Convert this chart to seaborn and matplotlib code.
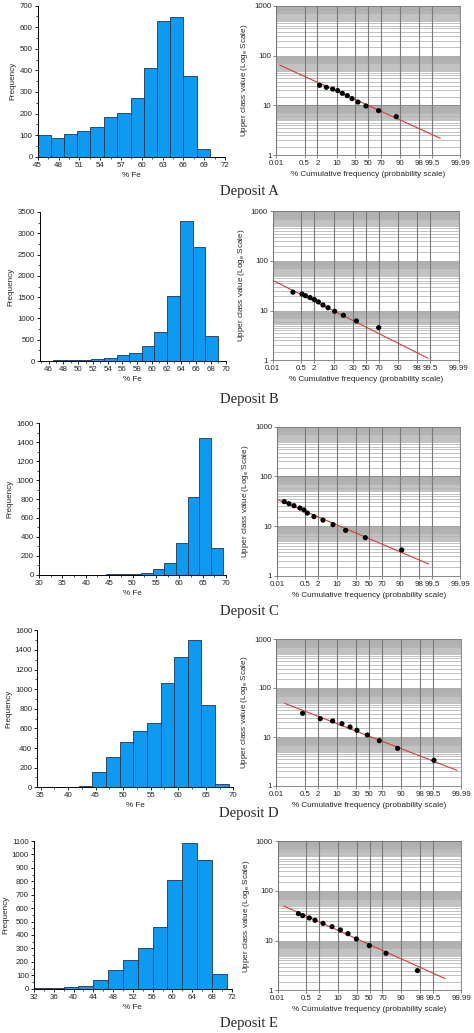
import numpy as np
import pandas as pd
import matplotlib
matplotlib.use("Agg")
import matplotlib.pyplot as plt
import matplotlib.ticker as mticker
import seaborn as sns
from statistics import NormalDist

# ---------------- data ----------------
deposits = ["A", "B", "C", "D", "E"]

histA_edges = [45.0, 46.9, 48.8, 50.7, 52.6, 54.6, 56.5, 58.4, 60.3, 62.2, 64.1, 66.0, 67.9, 69.8]
histA_counts = [99, 85, 104, 119, 138, 184, 201, 270, 410, 629, 649, 374, 37]
histB_edges = [44.9, 46.6, 48.3, 50.1, 51.8, 53.5, 55.2, 56.9, 58.6, 60.3, 62.1, 63.8, 65.5, 67.2, 68.9]
histB_counts = [8, 20, 12, 30, 42, 63, 133, 196, 360, 690, 1527, 3280, 2686, 580]
histC_edges = [41.8, 44.3, 46.8, 49.3, 51.8, 54.3, 56.8, 59.3, 61.8, 64.3, 66.8, 69.3]
histC_counts = [2, 4, 5, 8, 21, 60, 127, 331, 824, 1444, 282]
histD_edges = [34.5, 37.0, 39.4, 41.9, 44.4, 46.9, 49.4, 51.8, 54.3, 56.8, 59.3, 61.8, 64.2, 66.7, 69.2]
histD_counts = [1, 2, 5, 18, 153, 309, 462, 578, 653, 1058, 1323, 1500, 840, 34]
histE_edges = [32, 35, 38, 41, 44, 47, 50, 53, 56, 59, 62, 65, 68, 71]
histE_counts = [6, 3, 14, 20, 65, 142, 214, 305, 462, 808, 1083, 962, 109]

hist_xticks = {
    "A": [45, 48, 51, 54, 57, 60, 63, 66, 69, 72],
    "B": [46, 48, 50, 52, 54, 56, 58, 60, 62, 64, 66, 68, 70],
    "C": [30, 35, 40, 45, 50, 55, 60, 65, 70],
    "D": [35, 40, 45, 50, 55, 60, 65, 70],
    "E": [32, 36, 40, 44, 48, 52, 56, 60, 64, 68, 72],
}
hist_yticks = {
    "A": [0, 100, 200, 300, 400, 500, 600, 700],
    "B": [0, 500, 1000, 1500, 2000, 2500, 3000, 3500],
    "C": [0, 200, 400, 600, 800, 1000, 1200, 1400, 1600],
    "D": [0, 200, 400, 600, 800, 1000, 1200, 1400, 1600],
    "E": [0, 100, 200, 300, 400, 500, 600, 700, 800, 900, 1000, 1100],
}

probA_pct = [2.45, 4.5, 7.5, 10.8, 14.7, 19.8, 25.5, 33.8, 46.2, 66.2, 87.1]
probA_val = [25.3, 23.1, 21.3, 19.8, 17.5, 15.7, 13.7, 11.7, 9.74, 7.85, 5.96]
fitA_pct = [0.0169, 99.82]
fitA_val = [64.6, 2.19]

probB_pct = [0.18, 0.54, 0.79, 1.30, 2.0, 2.92, 4.39, 6.6, 10.75, 18.6, 35.5, 69.8]
probB_val = [23.3, 21.5, 19.9, 18.2, 16.6, 14.9, 12.9, 11.4, 9.65, 8.02, 6.17, 4.53]
fitB_pct = [0.01, 99.37]
fitB_val = [40.5, 1.10]

probC_pct = [0.031, 0.061, 0.122, 0.265, 0.433, 0.64, 1.32, 3.19, 7.4, 17.5, 44.6, 91.0]
probC_val = [31.2, 28.4, 25.9, 23.2, 21.2, 18.4, 15.6, 13.3, 10.8, 8.27, 5.89, 3.33]
fitC_pct = [0.01, 99.26]
fitC_val = [34.7, 1.74]

probD_pct = [0.39, 2.56, 7.3, 14.0, 22.5, 31.7, 47.6, 66.4, 87.7, 99.56]
probD_val = [30.4, 23.7, 21.2, 18.7, 16.0, 13.7, 11.0, 8.42, 5.87, 3.34]
fitD_pct = [0.0356, 99.98]
fitD_val = [48.7, 2.09]

probE_pct = [0.198, 0.34, 0.74, 1.37, 2.99, 6.45, 11.9, 19.2, 29.7, 49.7, 74.8, 97.4]
probE_val = [35.0, 31.9, 28.6, 25.7, 22.3, 19.1, 16.4, 13.8, 10.8, 7.94, 5.56, 2.49]
fitE_pct = [0.0255, 99.89]
fitE_val = [49.9, 1.72]

prob_xticks = [0.01, 0.5, 2, 10, 30, 50, 70, 90, 98, 99.5, 99.99]
prob_xlabels = ["0.01", "0.5", "2", "10", "30", "50", "70", "90", "98", "99.5", "99.99"]
prob_yticks = [1, 10, 100, 1000]

hists = {"A": (histA_edges, histA_counts), "B": (histB_edges, histB_counts),
         "C": (histC_edges, histC_counts), "D": (histD_edges, histD_counts),
         "E": (histE_edges, histE_counts)}
probs = {"A": (probA_pct, probA_val, fitA_pct, fitA_val),
         "B": (probB_pct, probB_val, fitB_pct, fitB_val),
         "C": (probC_pct, probC_val, fitC_pct, fitC_val),
         "D": (probD_pct, probD_val, fitD_pct, fitD_val),
         "E": (probE_pct, probE_val, fitE_pct, fitE_val)}

# ---------------- layout (pixels: left, top, right, bottom) ----------------
W, H = 474, 1033
hist_rects = {"A": (37.7, 5.7, 225.0, 156.7), "B": (40.0, 212.0, 225.7, 361.0),
              "C": (39.0, 423.3, 226.0, 574.7), "D": (37.3, 630.3, 233.3, 787.3),
              "E": (34.0, 841.0, 231.7, 988.7)}
hist_xlims = {"A": (45, 72), "B": (44.82, 70), "C": (30, 70), "D": (34.4, 70), "E": (32, 72)}
prob_rects = {"A": (276.3, 5.7, 460.3, 155.3), "B": (272.7, 211.0, 458.7, 360.3),
              "C": (277.0, 426.7, 460.3, 576.0), "D": (276.3, 639.0, 461.3, 786.0),
              "E": (277.7, 841.3, 461.3, 990.3)}
title_y = {"A": 192, "B": 400, "C": 611, "D": 814, "E": 1024}

BAR = "#0f9af2"
EDGE = "#1b3550"
# minor grid sub-steps within each decade (sparse low, denser towards the top)
GRID_SUBS = np.concatenate([np.arange(1.5, 5.0, 0.5), np.arange(5.0, 7.0, 0.25),
                            np.arange(7.0, 8.5, 0.15), np.arange(8.5, 10.0, 0.1)])

sns.set_theme(style="ticks")
plt.rcParams["font.family"] = ["Liberation Sans", "DejaVu Sans"]
plt.rcParams["axes.linewidth"] = 0.7

fig = plt.figure(figsize=(W / 100, H / 100), dpi=100)
fig.patch.set_facecolor("white")


def rect(r):
    l, t, rr, b = r
    return [l / W, 1 - b / H, (rr - l) / W, (b - t) / H]


_nd = NormalDist()
_ppf = np.vectorize(lambda v: _nd.inv_cdf(v / 100.0), otypes=[float])
_cdf = np.vectorize(lambda z: _nd.cdf(z) * 100.0, otypes=[float])


def fwd(p):
    p = np.clip(np.asarray(p, dtype=float), 1e-9, 100 - 1e-9)
    return _ppf(p)


def inv(z):
    return _cdf(np.asarray(z, dtype=float))


for d in deposits:
    # histogram
    ax = fig.add_axes(rect(hist_rects[d]))
    edges, counts = hists[d]
    edges = [float(e) for e in edges]
    df = pd.DataFrame({
        "fe": [(a + b) / 2 for a, b in zip(edges[:-1], edges[1:])],
        "count": [float(c) for c in counts],
    })
    sns.histplot(data=df, x="fe", weights="count", bins=edges, ax=ax, color=BAR,
                 edgecolor=EDGE, linewidth=0.6, alpha=1.0)
    ax.set_xlim(*hist_xlims[d])
    yt = hist_yticks[d]
    ax.set_ylim(0, yt[-1])
    ax.set_xticks(hist_xticks[d])
    ax.set_yticks(yt)
    ax.xaxis.set_minor_locator(mticker.AutoMinorLocator(2))
    ax.yaxis.set_minor_locator(mticker.AutoMinorLocator(2))
    sns.despine(ax=ax)
    ax.tick_params(which="major", direction="out", length=2.5, width=0.6,
                   labelsize=5.7, pad=1.2, color="black")
    ax.tick_params(which="minor", direction="out", length=1.5, width=0.5, color="black")
    ax.set_xlabel("% Fe", fontsize=5.9, labelpad=2)
    ax.set_ylabel("Frequency", fontsize=5.9, labelpad=2)
    for s in ax.spines.values():
        s.set_color("black")

    # probability plot
    ax2 = fig.add_axes(rect(prob_rects[d]))
    pct, val, fpct, fval = probs[d]
    ax2.set_xscale("function", functions=(fwd, inv))
    ax2.set_yscale("log")
    ax2.set_xlim(0.01, 99.99)
    ax2.set_ylim(1, 1000)
    ax2.xaxis.set_major_locator(mticker.FixedLocator(prob_xticks))
    ax2.xaxis.set_major_formatter(mticker.FixedFormatter(prob_xlabels))
    ax2.xaxis.set_minor_locator(mticker.NullLocator())
    ax2.yaxis.set_major_locator(mticker.FixedLocator(prob_yticks))
    ax2.yaxis.set_major_formatter(mticker.FixedFormatter([str(v) for v in prob_yticks]))
    ax2.yaxis.set_minor_locator(mticker.LogLocator(base=10, subs=GRID_SUBS, numticks=50))
    ax2.yaxis.set_minor_formatter(mticker.NullFormatter())
    ax2.set_axisbelow(True)
    ax2.grid(which="minor", axis="y", color="#b0b0b0", linewidth=0.55)
    ax2.grid(which="major", axis="y", color="#8a8a8a", linewidth=0.7)
    ax2.grid(which="major", axis="x", color="#7a7a7a", linewidth=0.8)
    ax2.xaxis.set_zorder(0.6)
    sns.lineplot(x=fpct, y=fval, ax=ax2, color="#d63c3c", linewidth=0.8, sort=False)
    sns.scatterplot(x=pct, y=val, ax=ax2, color="black", s=14, edgecolor="none", zorder=4)
    ax2.set_xlim(0.01, 99.99)
    ax2.set_ylim(1, 1000)
    ax2.tick_params(which="major", direction="out", length=2, width=0.5,
                    labelsize=5.7, pad=1.5, color="#555555")
    ax2.tick_params(which="minor", length=0)
    for s in ax2.spines.values():
        s.set_color("#777777")
        s.set_linewidth(0.6)
    ax2.set_xlabel("% Cumulative frequency (probability scale)", fontsize=5.9, labelpad=3)
    ax2.set_ylabel("Upper class value (Log$_\\mathregular{e}$ Scale)", fontsize=5.9, labelpad=3)

    fig.text(249 / W, 1 - title_y[d] / H, f"Deposit {d}", ha="center", va="center",
             fontsize=10.5, family=["Liberation Serif", "DejaVu Serif"])

fig.savefig("out.png", dpi=100, facecolor="white")
